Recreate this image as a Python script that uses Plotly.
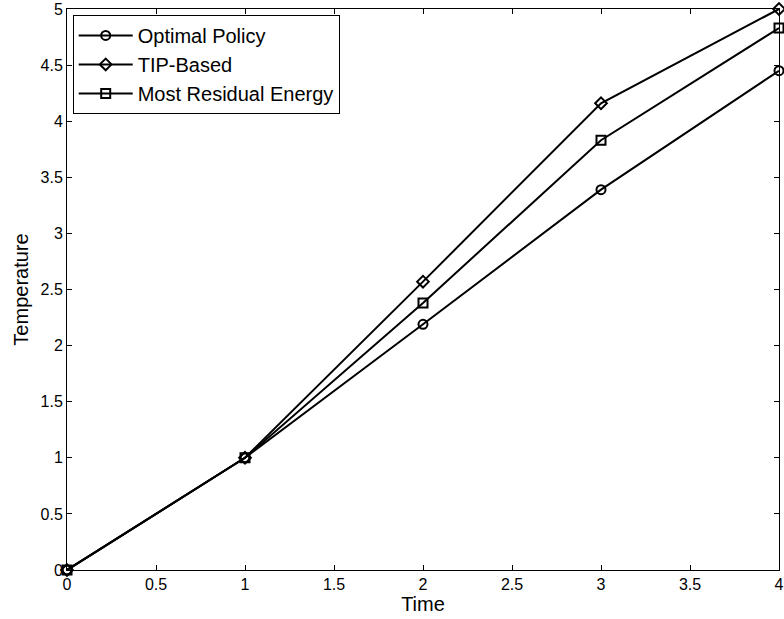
import plotly.graph_objects as go

time = [0, 1, 2, 3, 4]
optimal = [0, 1.0, 2.19, 3.39, 4.45]
tip_based = [0, 1.0, 2.57, 4.16, 5.0]
most_residual = [0, 1.0, 2.38, 3.83, 4.83]

x_ticks = [0, 0.5, 1, 1.5, 2, 2.5, 3, 3.5, 4]
y_ticks = [0, 0.5, 1, 1.5, 2, 2.5, 3, 3.5, 4, 4.5, 5]

series = [
    ("Optimal Policy", optimal, "circle-open"),
    ("TIP-Based", tip_based, "diamond-open"),
    ("Most Residual Energy", most_residual, "square-open"),
]

FONT = "Liberation Sans, Arial, sans-serif"

fig = go.Figure()
for name, vals, sym in series:
    fig.add_trace(go.Scatter(
        x=time, y=vals, name=name, mode="lines+markers",
        line=dict(color="black", width=2),
        marker=dict(symbol=sym, size=9, color="black", line=dict(width=2, color="black")),
        cliponaxis=False,
    ))

axis_common = dict(
    showline=True, linecolor="black", linewidth=1, mirror="ticks",
    ticks="inside", ticklen=5, tickcolor="black", showgrid=False, zeroline=False,
    automargin=False,
    tickfont=dict(family=FONT, size=16, color="black"),
)

fig.update_xaxes(range=[0, 4], tickvals=x_ticks,
                 ticktext=[f"{v:g}" for v in x_ticks],
                 title=dict(text="Time", standoff=4,
                            font=dict(family=FONT, size=20, color="black")),
                 **axis_common)
fig.update_yaxes(range=[0, 5], tickvals=y_ticks,
                 ticktext=[f"{v:g}" for v in y_ticks],
                 title=dict(text="Temperature", standoff=6,
                            font=dict(family=FONT, size=20, color="black")),
                 **axis_common)

fig.update_layout(
    width=784, height=619,
    margin=dict(l=67, r=5, t=9, b=49),
    paper_bgcolor="white", plot_bgcolor="white",
    font=dict(family=FONT, color="black"),
    legend=dict(x=0.008, y=0.9895, xanchor="left", yanchor="top",
                bordercolor="black", borderwidth=1, bgcolor="white",
                font=dict(size=20, color="black"), itemwidth=54,
                tracegroupgap=0),
    showlegend=True,
)

fig.write_html("out.html", config={"displayModeBar": False},
               post_script="document.body.style.margin='0';document.body.style.overflow='hidden';")
